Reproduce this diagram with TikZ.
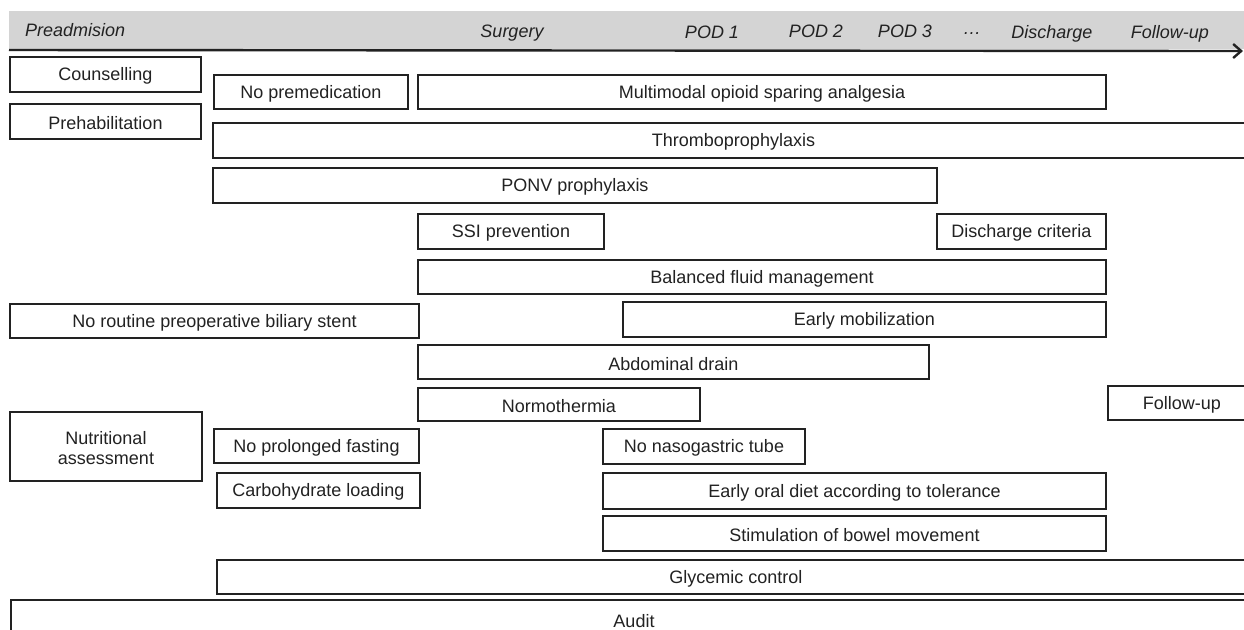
\documentclass[tikz,border=0pt]{standalone}
\usepackage{fontspec}
\setmainfont{Liberation Sans}
\usetikzlibrary{arrows.meta}
\definecolor{barfill}{HTML}{D4D4D4}
\definecolor{boxline}{HTML}{222222}
\begin{document}
\begin{tikzpicture}[x=0.5pt, y=-0.5pt,
        box/.style={draw=boxline, line width=1.1pt, fill=white},
        lbl/.style={font=\fontsize{9}{10.4}\selectfont, text=boxline, align=center, yshift=-0.8pt},
        phase/.style={font=\fontsize{9}{10.4}\selectfont\itshape, text=boxline}]
        \useasboundingbox (0,0) rectangle (1244,629);
        \clip (0,0) rectangle (1244,629);

        %the time line on top
        \path [fill=barfill] (9,11) rectangle (1244,49);
        \coordinate (tstart) at (9,50);
        \coordinate (tend) at (1243,51);
        \draw [boxline, line width=1.2pt, -{Straight Barb[length=4pt, width=7pt, line width=1.2pt]}] (tstart) -- (tend);
        \node [phase, anchor=west] (pre) at (18,30) {Preadmision};
        \node [phase] (surg) at (512,33) {Surgery};
        \node [phase] (pod1) at (712,32) {POD 1};
        \node [phase] (pod2) at (816,31) {POD 2};
        \node [phase] (pod3) at (905,31) {POD 3};
        \node [phase] (dots) at (972,34) {\dots};
        \node [phase] (disch) at (1052,34) {Discharge};
        \node [phase] (fup) at (1170,34) {Follow-up};

        %the items
        \draw [box] (10,57) rectangle (201,92) node [lbl, midway] (couns) {Counselling};
        \draw [box] (10,104) rectangle (201,139) node [lbl, midway] (prehab) {Prehabilitation};
        \draw [box] (214,75) rectangle (408,109) node [lbl, midway] (noprem) {No premedication};
        \draw [box] (418,75) rectangle (1106,109) node [lbl, midway] (analg) {Multimodal opioid sparing analgesia};
        \draw [box] (213,123) rectangle (1254,158) node [lbl, midway] (thromb) {Thromboprophylaxis};
        \draw [box] (213,168) rectangle (937,203) node [lbl, midway] (ponv) {PONV prophylaxis};
        \draw [box] (418,214) rectangle (604,249) node [lbl, midway] (ssi) {SSI prevention};
        \draw [box] (937,214) rectangle (1106,249) node [lbl, midway] (dcrit) {Discharge criteria};
        \draw [box] (418,260) rectangle (1106,294) node [lbl, midway] (fluid) {Balanced fluid management};
        \draw [box] (10,304) rectangle (419,338) node [lbl, midway] (stent) {No routine preoperative biliary stent};
        \draw [box] (623,302) rectangle (1106,337) node [lbl, midway] (mobil) {Early mobilization};
        \draw [box] (418,345) rectangle (929,379) node [lbl, midway] (drain) {Abdominal drain};
        \draw [box] (418,388) rectangle (700,421) node [lbl, midway] (normo) {Normothermia};
        \draw [box] (1108,386) rectangle (1256,420) node [lbl, midway] (follow) {Follow-up};
        \draw [box] (10,412) rectangle (202,481) node [lbl, midway] (nutri) {Nutritional\\assessment};
        \draw [box] (214,429) rectangle (419,463) node [lbl, midway] (fast) {No prolonged fasting};
        \draw [box] (217,473) rectangle (420,508) node [lbl, midway] (carbo) {Carbohydrate loading};
        \draw [box] (603,429) rectangle (805,464) node [lbl, midway] (ngt) {No nasogastric tube};
        \draw [box] (603,473) rectangle (1106,509) node [lbl, midway] (diet) {Early oral diet according to tolerance};
        \draw [box] (603,516) rectangle (1106,551) node [lbl, midway] (bowel) {Stimulation of bowel movement};
        \draw [box] (217,560) rectangle (1255,594) node [lbl, midway] (glyc) {Glycemic control};
        \draw [box] (11,600) rectangle (1257,638) node [lbl, midway] (audit) {Audit};

\end{tikzpicture}
\end{document}
